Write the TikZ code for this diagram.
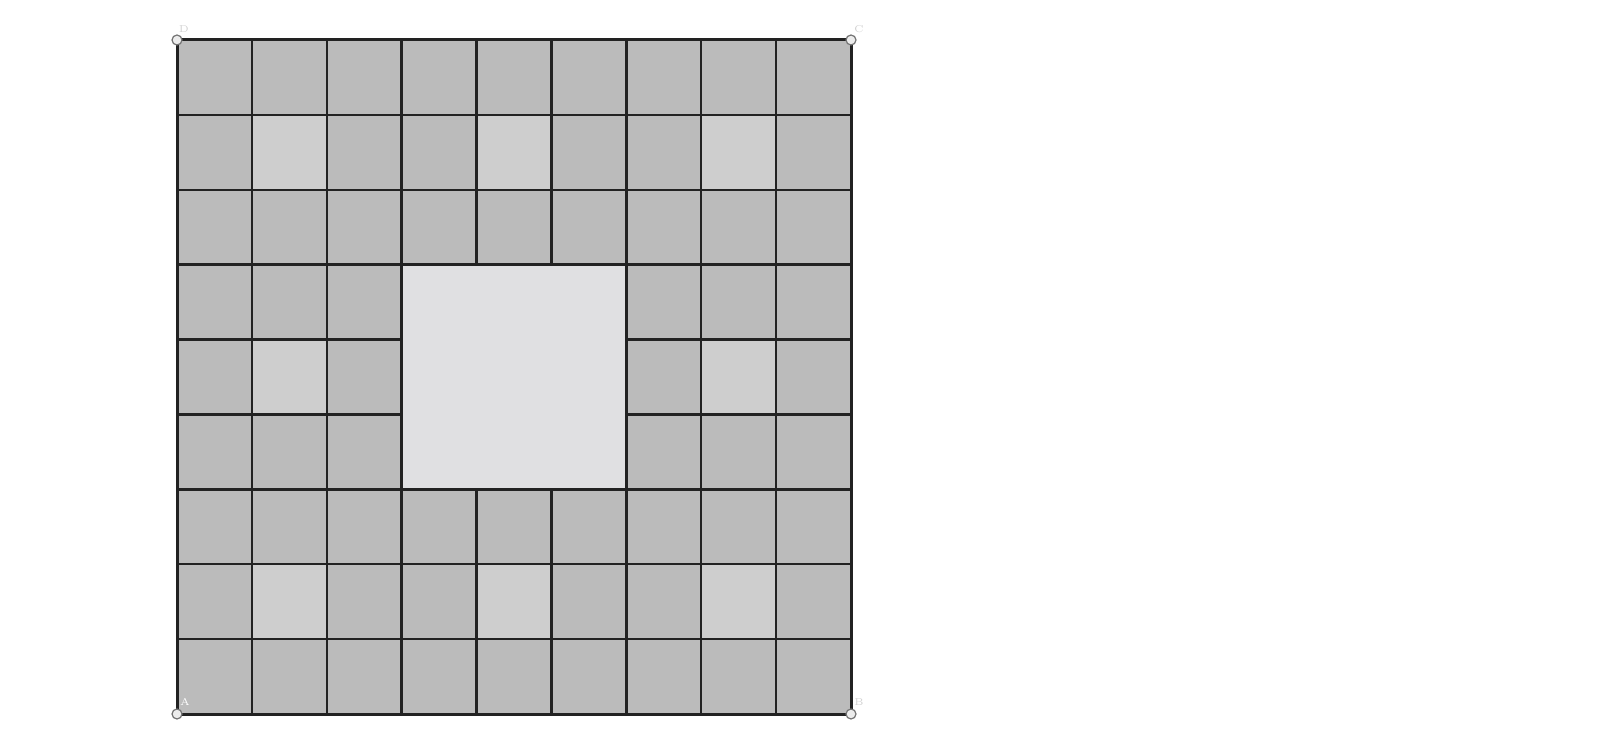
\documentclass[tikz,border=0pt]{standalone}
\begin{document}
\begin{tikzpicture}[x=0.5pt,y=-0.5pt,
  cellbox/.style={fill=cellgray,draw=linegray,line width=1.25pt},
  lightbox/.style={fill=lightgray2,draw=linegray,line width=1.25pt},
  holebox/.style={fill=holegray,draw=linegray,line width=1.25pt},
  vertex/.style={circle,draw=gray!90!black,fill=gray!15,line width=0.6pt,inner sep=0pt,minimum size=5pt},
  ptlabel/.style={font=\tiny,text=gray!35}]
\definecolor{cellgray}{HTML}{BBBBBB}
\definecolor{lightgray2}{HTML}{CECECE}
\definecolor{holegray}{HTML}{E0E0E2}
\definecolor{linegray}{HTML}{222222}
\useasboundingbox (0,0) rectangle (1600,742);
\def\xo{177}\def\yo{40}\def\cs{74.89}
\foreach \i in {0,...,8}{
  \foreach \j in {0,...,8}{
    \pgfmathsetmacro{\inhole}{(\i>=3)&&(\i<=5)&&(\j>=3)&&(\j<=5)?1:0}
    \pgfmathsetmacro{\islight}{((\i==1)||(\i==4)||(\i==7))&&((\j==1)||(\j==4)||(\j==7))?1:0}
    \ifnum\inhole=0
      \ifnum\islight=1
        \draw[lightbox] (\xo+\i*\cs,\yo+\j*\cs) rectangle ++(\cs,\cs);
      \else
        \draw[cellbox] (\xo+\i*\cs,\yo+\j*\cs) rectangle ++(\cs,\cs);
      \fi
    \fi
  }
}
\draw[holebox] (\xo+3*\cs,\yo+3*\cs) rectangle ++(3*\cs,3*\cs);
\draw[linegray,line width=1.5pt] (177,40) rectangle (851,714);
\node[vertex] (D) at (177,40) {};
\node[vertex] (C) at (851,40) {};
\node[vertex] (A) at (177,714) {};
\node[vertex] (B) at (851,714) {};
\node[ptlabel] (lD) at (184,29) {D};
\node[ptlabel] (lC) at (859,29) {C};
\node[ptlabel,text=white] (lA) at (185,702) {A};
\node[ptlabel] (lB) at (859,702) {B};
\end{tikzpicture}
\end{document}
